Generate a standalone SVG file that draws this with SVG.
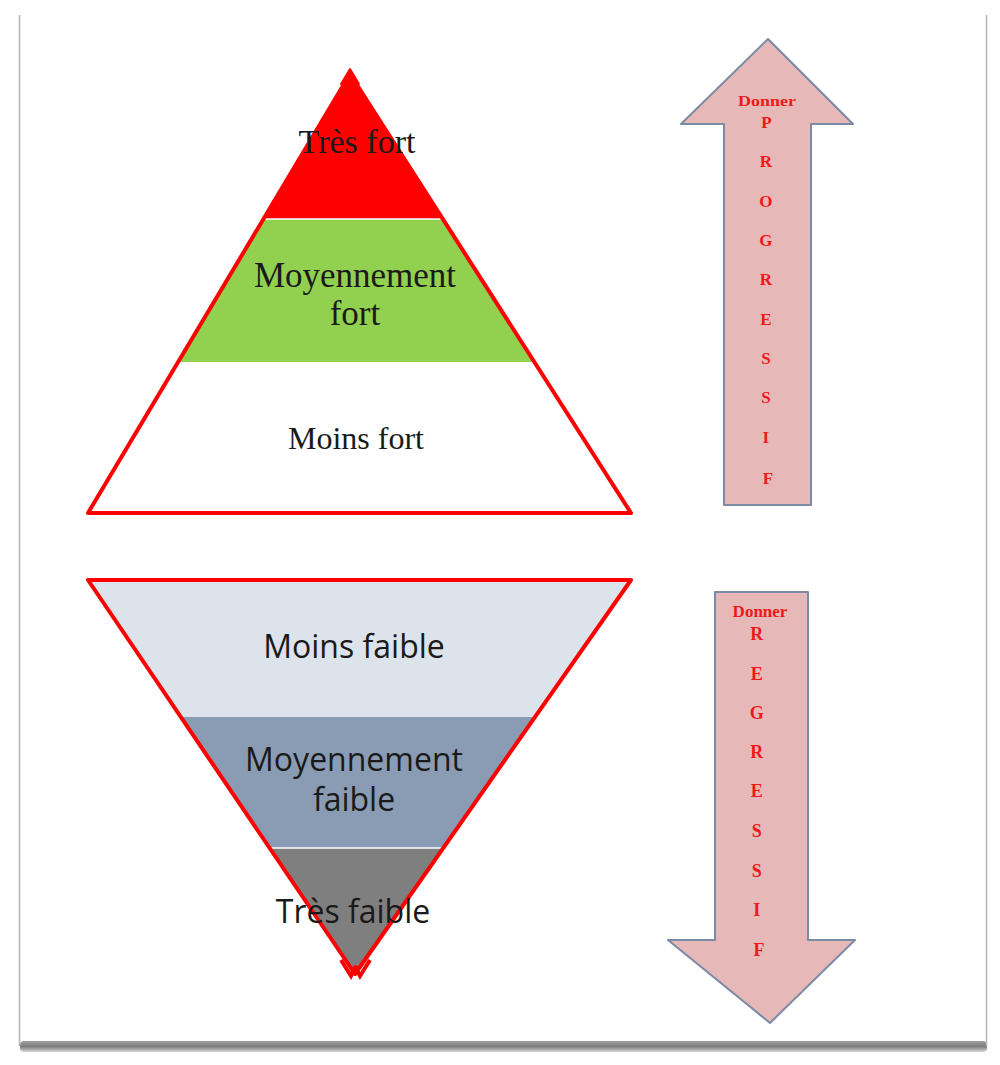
<svg xmlns="http://www.w3.org/2000/svg" width="1000" height="1065" viewBox="0 0 1000 1065">
<defs>
<style>
.serif{font-family:"Liberation Serif","Times New Roman",serif;fill:#1a1a1a;text-anchor:middle}
.sans{font-family:"Open Sans","Liberation Sans",sans-serif;fill:#1a1a1a;text-anchor:middle}
.lab{font-family:"Liberation Serif","Times New Roman",serif;font-weight:bold;fill:#f01818;text-anchor:middle}
.outline{fill:none;stroke:#ff0000;stroke-width:4;stroke-linejoin:round}
.barrow{fill:#e6b9b8;stroke:#7b8ba6;stroke-width:2;stroke-linejoin:round}
.sep{stroke:#ffffff;stroke-width:1.5}
</style>
<linearGradient id="shadow" x1="0" y1="0" x2="0" y2="1">
<stop offset="0" stop-color="#a0a0a0"/>
<stop offset="0.5" stop-color="#7d7d7d"/>
<stop offset="1" stop-color="#d8d8d8"/>
</linearGradient>
</defs>
<rect width="1000" height="1065" fill="#ffffff"/>
<g id="frame">
<rect x="20" y="1041" width="967" height="11" rx="4" fill="url(#shadow)"/>
<line x1="19.5" y1="15" x2="19.5" y2="1046" stroke="#b4b4b4" stroke-width="1.5"/>
<line x1="986.5" y1="15" x2="986.5" y2="1046" stroke="#b4b4b4" stroke-width="1.5"/>
</g>
<g id="pyramid-up">
<polygon points="350,74 443,219 263,219" fill="#ff0000"/>
<polygon points="263,219 443,219 534,362 178,362" fill="#92d050"/>
<line class="sep" x1="264" y1="219" x2="442" y2="219"/>
<polygon class="outline" points="350,74 631,513 88,513"/>
<polygon points="341,84 350,69 359,84 350,79" fill="#ff0000" stroke="#ff0000" stroke-width="2" stroke-linejoin="round"/>
<text class="serif" x="357" y="153" font-size="34">Très fort</text>
<text class="serif" x="355" y="287" font-size="35">Moyennement</text>
<text class="serif" x="355" y="325" font-size="35">fort</text>
<text class="serif" x="356" y="449" font-size="32">Moins fort</text>
</g>
<g id="pyramid-down">
<polygon points="88,580 631,580 535,717 181,717" fill="#dce3ea"/>
<polygon points="181,717 535,717 444,848 269,848" fill="#8a9cb3"/>
<polygon points="269,848 444,848 355,975" fill="#7f7f7f"/>
<line class="sep" x1="270" y1="848" x2="443" y2="848"/>
<polygon class="outline" points="88,580 631,580 355,974"/>
<polyline points="341,960 351,976 356,966" fill="none" stroke="#ff0000" stroke-width="4"/>
<polyline points="355,966 360,976 370,960" fill="none" stroke="#ff0000" stroke-width="4"/>
<text class="sans" x="354" y="658" font-size="32">Moins faible</text>
<text class="sans" x="354" y="771" font-size="32">Moyennement</text>
<text class="sans" x="354" y="811" font-size="32">faible</text>
<text class="sans" x="353" y="923" font-size="32">Très faible</text>
</g>
<g id="arrow-progressif">
<polygon class="barrow" points="768,39 853,124 811,124 811,505 724,505 724,124 681,124"/>
<text class="lab" x="767" y="106" font-size="15" textLength="58" lengthAdjust="spacingAndGlyphs">Donner</text>
<text class="lab" font-size="17">
<tspan x="768" y="128">P</tspan>
<tspan x="768" y="167">R</tspan>
<tspan x="768" y="207">O</tspan>
<tspan x="768" y="246">G</tspan>
<tspan x="768" y="285">R</tspan>
<tspan x="768" y="325">E</tspan>
<tspan x="768" y="364">S</tspan>
<tspan x="768" y="403">S</tspan>
<tspan x="768" y="443">I</tspan>
<tspan x="768" y="484">F</tspan>
</text>
</g>
<g id="arrow-regressif">
<polygon class="barrow" points="715,592 808,592 808,940 855,940 770,1023 668,940 715,940"/>
<text class="lab" x="760" y="617" font-size="17">Donner</text>
<text class="lab" font-size="18">
<tspan x="759" y="640">R</tspan>
<tspan x="759" y="680">E</tspan>
<tspan x="759" y="719">G</tspan>
<tspan x="759" y="758">R</tspan>
<tspan x="759" y="797">E</tspan>
<tspan x="759" y="837">S</tspan>
<tspan x="759" y="877">S</tspan>
<tspan x="759" y="916">I</tspan>
<tspan x="759" y="956">F</tspan>
</text>
</g>
<g id="connectors"></g>
</svg>
